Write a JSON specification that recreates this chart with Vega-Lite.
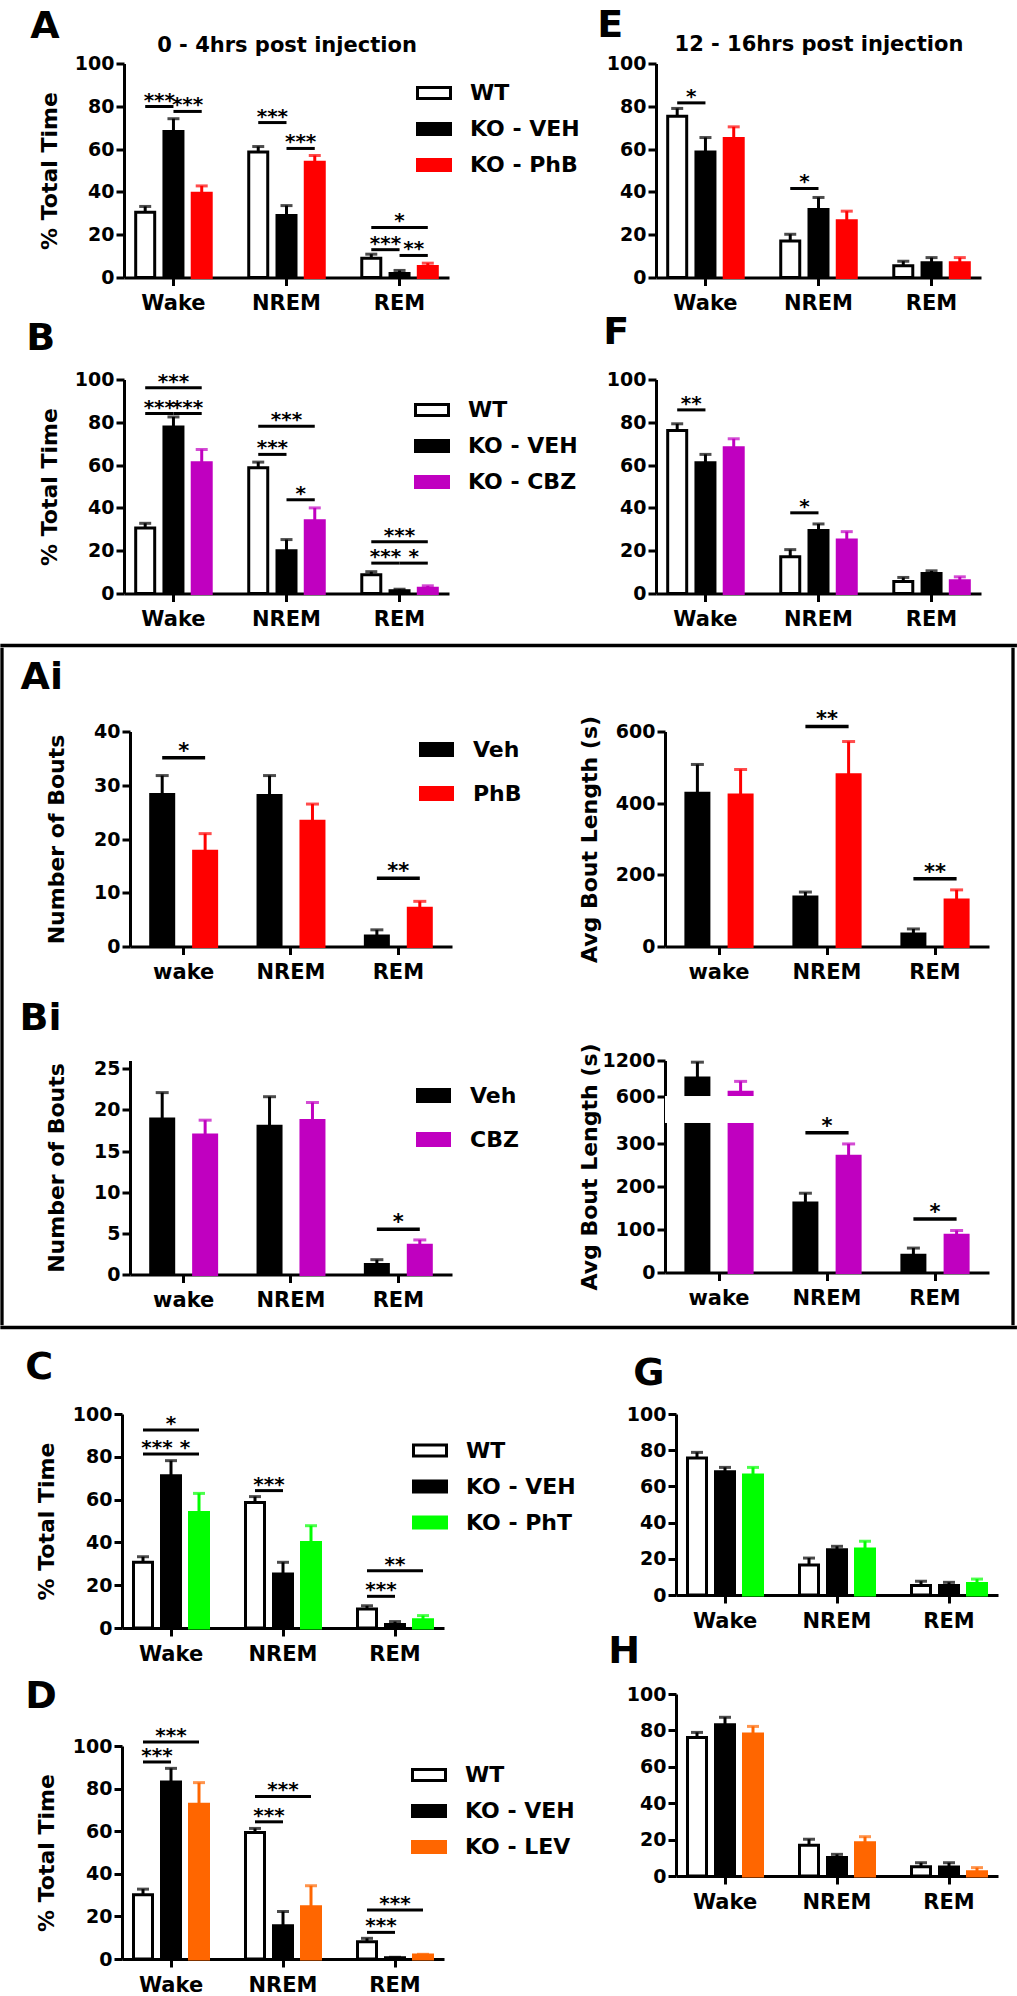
{
"$schema": "https://vega.github.io/schema/vega-lite/v6.json",
"background": "white",
"padding": {"left": 0, "top": 6.5, "right": 0, "bottom": 0},
"datasets": {
"A": [
{"bar":"Wake|WT","group":"WT","mean":30.5,"hi":33.2},
{"bar":"Wake|KO","group":"KO - VEH","mean":68.2,"hi":74.2},
{"bar":"Wake|Drug","group":"KO - PhB","mean":39.4,"hi":42.8},
{"bar":"NREM|WT","group":"WT","mean":58.6,"hi":61.2},
{"bar":"NREM|KO","group":"KO - VEH","mean":29,"hi":33.6},
{"bar":"NREM|Drug","group":"KO - PhB","mean":53.9,"hi":57},
{"bar":"REM|WT","group":"WT","mean":9,"hi":10.9},
{"bar":"REM|KO","group":"KO - VEH","mean":1.9,"hi":3.3},
{"bar":"REM|Drug","group":"KO - PhB","mean":5.1,"hi":6.7}],
"A_sig": [
{"from":"Wake|WT","to":"Wake|KO","at":"Wake|WT-KO","y":79.9,"label":"***"},
{"from":"Wake|KO","to":"Wake|Drug","at":"Wake|KO-Drug","y":77.6,"label":"***"},
{"from":"NREM|WT","to":"NREM|KO","at":"NREM|WT-KO","y":72.4,"label":"***"},
{"from":"NREM|KO","to":"NREM|Drug","at":"NREM|KO-Drug","y":60.3,"label":"***"},
{"from":"REM|WT","to":"REM|Drug","at":"REM|KO","y":23.4,"label":"*"},
{"from":"REM|WT","to":"REM|KO","at":"REM|WT-KO","y":13,"label":"***"},
{"from":"REM|KO","to":"REM|Drug","at":"REM|KO-Drug","y":10.3,"label":"**"}],
"E": [
{"bar":"Wake|WT","group":"WT","mean":75.4,"hi":79},
{"bar":"Wake|KO","group":"KO - VEH","mean":58.7,"hi":65.4},
{"bar":"Wake|Drug","group":"KO - PhB","mean":65,"hi":70.4},
{"bar":"NREM|WT","group":"WT","mean":17.1,"hi":20.2},
{"bar":"NREM|KO","group":"KO - VEH","mean":31.8,"hi":37.4},
{"bar":"NREM|Drug","group":"KO - PhB","mean":26.5,"hi":31},
{"bar":"REM|WT","group":"WT","mean":5.5,"hi":7.6},
{"bar":"REM|KO","group":"KO - VEH","mean":6.9,"hi":9.3},
{"bar":"REM|Drug","group":"KO - PhB","mean":6.9,"hi":9.3}],
"E_sig": [
{"from":"Wake|WT","to":"Wake|KO","at":"Wake|WT-KO","y":81.6,"label":"*"},
{"from":"NREM|WT","to":"NREM|KO","at":"NREM|WT-KO","y":41.6,"label":"*"}],
"B": [
{"bar":"Wake|WT","group":"WT","mean":30.6,"hi":32.8},
{"bar":"Wake|KO","group":"KO - VEH","mean":77.8,"hi":82.5},
{"bar":"Wake|Drug","group":"KO - CBZ","mean":61.1,"hi":67.3},
{"bar":"NREM|WT","group":"WT","mean":58.8,"hi":61.4},
{"bar":"NREM|KO","group":"KO - VEH","mean":20,"hi":25.2},
{"bar":"NREM|Drug","group":"KO - CBZ","mean":34,"hi":40},
{"bar":"REM|WT","group":"WT","mean":8.8,"hi":10.2},
{"bar":"REM|KO","group":"KO - VEH","mean":1.3,"hi":2},
{"bar":"REM|Drug","group":"KO - CBZ","mean":2.5,"hi":3.6}],
"B_sig": [
{"from":"Wake|WT","to":"Wake|Drug","at":"Wake|KO","y":96.1,"label":"***"},
{"from":"Wake|WT","to":"Wake|KO","at":"Wake|WT-KO","y":84.1,"label":"***"},
{"from":"Wake|KO","to":"Wake|Drug","at":"Wake|KO-Drug","y":84.1,"label":"***"},
{"from":"NREM|WT","to":"NREM|Drug","at":"NREM|KO","y":78.1,"label":"***"},
{"from":"NREM|WT","to":"NREM|KO","at":"NREM|WT-KO","y":65,"label":"***"},
{"from":"NREM|KO","to":"NREM|Drug","at":"NREM|KO-Drug","y":43.8,"label":"*"},
{"from":"REM|WT","to":"REM|Drug","at":"REM|KO","y":24.2,"label":"***"},
{"from":"REM|WT","to":"REM|KO","at":"REM|WT-KO","y":14.2,"label":"***"},
{"from":"REM|KO","to":"REM|Drug","at":"REM|KO-Drug","y":14.2,"label":"*"}],
"F": [
{"bar":"Wake|WT","group":"WT","mean":76.2,"hi":79.3},
{"bar":"Wake|KO","group":"KO - VEH","mean":61.1,"hi":65},
{"bar":"Wake|Drug","group":"KO - CBZ","mean":68.1,"hi":72.3},
{"bar":"NREM|WT","group":"WT","mean":17.2,"hi":20.5},
{"bar":"NREM|KO","group":"KO - VEH","mean":29.4,"hi":32.5},
{"bar":"NREM|Drug","group":"KO - CBZ","mean":25,"hi":28.9},
{"bar":"REM|WT","group":"WT","mean":5.6,"hi":7.5},
{"bar":"REM|KO","group":"KO - VEH","mean":9.4,"hi":10.6},
{"bar":"REM|Drug","group":"KO - CBZ","mean":6,"hi":7.8}],
"F_sig": [
{"from":"Wake|WT","to":"Wake|KO","at":"Wake|WT-KO","y":85.8,"label":"**"},
{"from":"NREM|WT","to":"NREM|KO","at":"NREM|WT-KO","y":37.7,"label":"*"}],
"C": [
{"bar":"Wake|WT","group":"WT","mean":30.7,"hi":33.3},
{"bar":"Wake|KO","group":"KO - VEH","mean":71.2,"hi":78.2},
{"bar":"Wake|Drug","group":"KO - PhT","mean":54,"hi":62.9},
{"bar":"NREM|WT","group":"WT","mean":58.7,"hi":61.4},
{"bar":"NREM|KO","group":"KO - VEH","mean":25.2,"hi":30.7},
{"bar":"NREM|Drug","group":"KO - PhT","mean":40,"hi":47.8},
{"bar":"REM|WT","group":"WT","mean":8.9,"hi":10.4},
{"bar":"REM|KO","group":"KO - VEH","mean":1.6,"hi":3},
{"bar":"REM|Drug","group":"KO - PhT","mean":3.9,"hi":5.8}],
"C_sig": [
{"from":"Wake|WT","to":"Wake|Drug","at":"Wake|KO","y":92.5,"label":"*"},
{"from":"Wake|WT","to":"Wake|KO","at":"Wake|WT-KO","y":81.3,"label":"***"},
{"from":"Wake|KO","to":"Wake|Drug","at":"Wake|KO-Drug","y":81.3,"label":"*"},
{"from":"NREM|WT","to":"NREM|KO","at":"NREM|WT-KO","y":64.2,"label":"***"},
{"from":"REM|WT","to":"REM|Drug","at":"REM|KO","y":26.8,"label":"**"},
{"from":"REM|WT","to":"REM|KO","at":"REM|WT-KO","y":14.8,"label":"***"}],
"G": [
{"bar":"Wake|WT","group":"WT","mean":75.7,"hi":78.8},
{"bar":"Wake|KO","group":"KO - VEH","mean":68.1,"hi":70.5},
{"bar":"Wake|Drug","group":"KO - PhT","mean":66.3,"hi":70.5},
{"bar":"NREM|WT","group":"WT","mean":16.6,"hi":20.4},
{"bar":"NREM|KO","group":"KO - VEH","mean":25,"hi":26.9},
{"bar":"NREM|Drug","group":"KO - PhT","mean":25.4,"hi":29.7},
{"bar":"REM|WT","group":"WT","mean":5.2,"hi":7.6},
{"bar":"REM|KO","group":"KO - VEH","mean":5.2,"hi":7},
{"bar":"REM|Drug","group":"KO - PhT","mean":6.4,"hi":8.8}],
"D": [
{"bar":"Wake|WT","group":"WT","mean":30.2,"hi":32.8},
{"bar":"Wake|KO","group":"KO - VEH","mean":83.1,"hi":89.5},
{"bar":"Wake|Drug","group":"KO - LEV","mean":72.7,"hi":82.8},
{"bar":"NREM|WT","group":"WT","mean":59.4,"hi":61.3},
{"bar":"NREM|KO","group":"KO - VEH","mean":15.6,"hi":22.3},
{"bar":"NREM|Drug","group":"KO - LEV","mean":24.5,"hi":34.4},
{"bar":"REM|WT","group":"WT","mean":8.1,"hi":9.7},
{"bar":"REM|KO","group":"KO - VEH","mean":0.6,"hi":0.8},
{"bar":"REM|Drug","group":"KO - LEV","mean":1.9,"hi":2.2}],
"D_sig": [
{"from":"Wake|WT","to":"Wake|Drug","at":"Wake|KO","y":101.9,"label":"***"},
{"from":"Wake|WT","to":"Wake|KO","at":"Wake|WT-KO","y":92.5,"label":"***"},
{"from":"NREM|WT","to":"NREM|Drug","at":"NREM|KO","y":76.3,"label":"***"},
{"from":"NREM|WT","to":"NREM|KO","at":"NREM|WT-KO","y":64.4,"label":"***"},
{"from":"REM|WT","to":"REM|Drug","at":"REM|KO","y":23,"label":"***"},
{"from":"REM|WT","to":"REM|KO","at":"REM|WT-KO","y":12.5,"label":"***"}],
"H": [
{"bar":"Wake|WT","group":"WT","mean":76.1,"hi":78.9},
{"bar":"Wake|KO","group":"KO - VEH","mean":83.1,"hi":87.2},
{"bar":"Wake|Drug","group":"KO - LEV","mean":78,"hi":82.2},
{"bar":"NREM|WT","group":"WT","mean":16.9,"hi":20.2},
{"bar":"NREM|KO","group":"KO - VEH","mean":10.1,"hi":11.9},
{"bar":"NREM|Drug","group":"KO - LEV","mean":18.3,"hi":21.6},
{"bar":"REM|WT","group":"WT","mean":5.1,"hi":7.3},
{"bar":"REM|KO","group":"KO - VEH","mean":5,"hi":7.3},
{"bar":"REM|Drug","group":"KO - LEV","mean":2.4,"hi":4.6}],
"AiL": [
{"bar":"wake|Veh","group":"Veh","mean":28.3,"hi":31.8},
{"bar":"wake|Drug","group":"PhB","mean":17.7,"hi":21},
{"bar":"NREM|Veh","group":"Veh","mean":28.1,"hi":31.8},
{"bar":"NREM|Drug","group":"PhB","mean":23.3,"hi":26.5},
{"bar":"REM|Veh","group":"Veh","mean":1.95,"hi":3.1},
{"bar":"REM|Drug","group":"PhB","mean":7.1,"hi":8.4}],
"AiL_sig": [
{"from":"wake|Veh","to":"wake|Drug","at":"wake|mid","y":35.1,"label":"*"},
{"from":"REM|Veh","to":"REM|Drug","at":"REM|mid","y":12.7,"label":"**"}],
"AiR": [
{"bar":"wake|Veh","group":"Veh","mean":428,"hi":508},
{"bar":"wake|Drug","group":"PhB","mean":423,"hi":494},
{"bar":"NREM|Veh","group":"Veh","mean":138,"hi":152},
{"bar":"NREM|Drug","group":"PhB","mean":479,"hi":572},
{"bar":"REM|Veh","group":"Veh","mean":35,"hi":49},
{"bar":"REM|Drug","group":"PhB","mean":130,"hi":158}],
"AiR_sig": [
{"from":"NREM|Veh","to":"NREM|Drug","at":"NREM|mid","y":614,"label":"**"},
{"from":"REM|Veh","to":"REM|Drug","at":"REM|mid","y":189,"label":"**"}],
"BiL": [
{"bar":"wake|Veh","group":"Veh","mean":18.9,"hi":22.1},
{"bar":"wake|Drug","group":"CBZ","mean":16.95,"hi":18.75},
{"bar":"NREM|Veh","group":"Veh","mean":18,"hi":21.6},
{"bar":"NREM|Drug","group":"CBZ","mean":18.7,"hi":20.9},
{"bar":"REM|Veh","group":"Veh","mean":1.2,"hi":1.8},
{"bar":"REM|Drug","group":"CBZ","mean":3.55,"hi":4.2}],
"BiL_sig": [
{"from":"REM|Veh","to":"REM|Drug","at":"REM|mid","y":5.5,"label":"*"}],
"BiR": [
{"bar":"wake|Veh","group":"Veh","mean":908,"hi":1172},
{"bar":"wake|Drug","group":"CBZ","mean":670,"hi":852},
{"bar":"NREM|Veh","group":"Veh","mean":162,"hi":185},
{"bar":"NREM|Drug","group":"CBZ","mean":271,"hi":300},
{"bar":"REM|Veh","group":"Veh","mean":40,"hi":57},
{"bar":"REM|Drug","group":"CBZ","mean":87,"hi":98}],
"BiR_sig": [
{"from":"NREM|Veh","to":"NREM|Drug","at":"NREM|mid","y":326,"label":"*"},
{"from":"REM|Veh","to":"REM|Drug","at":"REM|mid","y":125,"label":"*"}]
},
"config": {
"view": {"stroke": null},
"font": "DejaVu Sans",
"title": {"font":"DejaVu Sans","fontWeight":"bold","fontSize":38,"color":"black","anchor":"start","frame":"bounds","baseline":"alphabetic"},
"axis": {"domainColor":"black","domainWidth":3,"tickColor":"black","tickWidth":3,"tickSize":8,"labelColor":"black","labelFont":"DejaVu Sans","labelFontWeight":"bold","labelFontSize":19,"titleColor":"black","titleFont":"DejaVu Sans","titleFontWeight":"bold","titleFontSize":22,"grid":false,"labelPadding":2,"labelOverlap":false},
"axisX": {"labelFontSize":21,"labelPadding":7,"labelAngle":0},
"legend": {"labelFont":"DejaVu Sans","labelFontWeight":"bold","labelFontSize":22,"labelColor":"black"},
"text": {"font":"DejaVu Sans","fontWeight":"bold"}
},
"vconcat": [
{
"vconcat": [
{
"hconcat": [
{"width":0.01,"height":0.01,"data":{"values":[]},"mark":"point"},
{
"concat": [
{
"width":325,"height":214,
"title":{"text":"A","offset":-11,"dx":-8},
"data":{"name":"A"},
"resolve":{"axis":{"x":"independent","y":"independent"}},
"layer":[
{"mark":{"type":"bar","width":19,"strokeWidth":3},
"encoding":{
"x":{"field":"bar","type":"nominal","scale":{"domain":["Wake|WT","Wake|WT-KO","Wake|KO","Wake|KO-Drug","Wake|Drug","Wake|s1","Wake|s2","Wake|s3","NREM|WT","NREM|WT-KO","NREM|KO","NREM|KO-Drug","NREM|Drug","NREM|s1","NREM|s2","NREM|s3","REM|WT","REM|WT-KO","REM|KO","REM|KO-Drug","REM|Drug"],"paddingInner":0,"paddingOuter":1.7},"axis":{"values":["Wake|KO","NREM|KO","REM|KO"],"labelExpr":"split(datum.value,'|')[0]","labelFontSize":21,"labelPadding":7,"title":null}},
"y":{"field":"mean","type":"quantitative","scale":{"domain":[0,100]},"axis":{"values":[0,20,40,60,80,100],"labelOverlap":false,"title":"% Total Time","titlePadding":13}},
"fill":{"field":"group","type":"nominal","scale":{"domain":["WT","KO - VEH","KO - PhB"],"range":["#ffffff","#000000","#ff0000"]},"legend":{"orient":"none","legendX":292,"legendY":11.5,"title":null,"symbolType":"M-1,-0.333H1V0.333H-1Z","symbolSize":1089,"symbolStrokeWidth":3,"labelOffset":18,"rowPadding":6,"padding":0}},
"stroke":{"field":"group","type":"nominal","scale":{"domain":["WT","KO - VEH","KO - PhB"],"range":["#000000","#000000","#ff0000"]},"legend":{"orient":"none","legendX":292,"legendY":11.5,"title":null,"symbolType":"M-1,-0.333H1V0.333H-1Z","symbolSize":1089,"symbolStrokeWidth":3,"labelOffset":18,"rowPadding":6,"padding":0}}}},
{"mark":{"type":"rule","strokeWidth":3},
"encoding":{"x":{"field":"bar","type":"nominal","axis":{"orient":"top","title":"0 - 4hrs post injection","labels":false,"ticks":false,"domain":false,"titlePadding":12,"titleBaseline":"alphabetic","titleFontSize":21}},"y":{"field":"mean","type":"quantitative","axis":null},"y2":{"field":"hi"},"stroke":{"field":"group","type":"nominal"}}},
{"mark":{"type":"tick","thickness":3,"size":12},
"encoding":{"x":{"field":"bar","type":"nominal","axis":null},"y":{"field":"hi","type":"quantitative","axis":null},"color":{"field":"group","type":"nominal","scale":{"domain":["WT","KO - VEH","KO - PhB"],"range":["#000000","#000000","#ff0000"]},"legend":null}}},
{"data":{"name":"A_sig"},"mark":{"type":"rule","strokeWidth":3,"color":"black"},
"encoding":{"x":{"field":"from","type":"nominal","axis":null},"x2":{"field":"to"},"y":{"field":"y","type":"quantitative","axis":null}}},
{"data":{"name":"A_sig"},"mark":{"type":"text","fontSize":20,"baseline":"alphabetic","color":"black"},
"encoding":{"x":{"field":"at","type":"nominal","axis":null},"y":{"field":"y","type":"quantitative","axis":null},"text":{"field":"label"}}}
]
},
{
"width":325,"height":214,
"title":{"text":"E","offset":-11,"dx":-9},
"data":{"name":"E"},
"resolve":{"axis":{"x":"independent","y":"independent"}},
"layer":[
{"mark":{"type":"bar","width":19,"strokeWidth":3},
"encoding":{
"x":{"field":"bar","type":"nominal","scale":{"domain":["Wake|WT","Wake|WT-KO","Wake|KO","Wake|KO-Drug","Wake|Drug","Wake|s1","Wake|s2","Wake|s3","NREM|WT","NREM|WT-KO","NREM|KO","NREM|KO-Drug","NREM|Drug","NREM|s1","NREM|s2","NREM|s3","REM|WT","REM|WT-KO","REM|KO","REM|KO-Drug","REM|Drug"],"paddingInner":0,"paddingOuter":1.7},"axis":{"values":["Wake|KO","NREM|KO","REM|KO"],"labelExpr":"split(datum.value,'|')[0]","labelFontSize":21,"labelPadding":7,"title":null}},
"y":{"field":"mean","type":"quantitative","scale":{"domain":[0,100]},"axis":{"values":[0,20,40,60,80,100],"labelOverlap":false,"title":null}},
"fill":{"field":"group","type":"nominal","scale":{"domain":["WT","KO - VEH","KO - PhB"],"range":["#ffffff","#000000","#ff0000"]},"legend":null},
"stroke":{"field":"group","type":"nominal","scale":{"domain":["WT","KO - VEH","KO - PhB"],"range":["#000000","#000000","#ff0000"]},"legend":null}}},
{"mark":{"type":"rule","strokeWidth":3},
"encoding":{"x":{"field":"bar","type":"nominal","axis":{"orient":"top","title":"12 - 16hrs post injection","labels":false,"ticks":false,"domain":false,"titlePadding":13,"titleBaseline":"alphabetic","titleFontSize":21}},"y":{"field":"mean","type":"quantitative","axis":null},"y2":{"field":"hi"},"stroke":{"field":"group","type":"nominal"}}},
{"mark":{"type":"tick","thickness":3,"size":12},
"encoding":{"x":{"field":"bar","type":"nominal","axis":null},"y":{"field":"hi","type":"quantitative","axis":null},"color":{"field":"group","type":"nominal","scale":{"domain":["WT","KO - VEH","KO - PhB"],"range":["#000000","#000000","#ff0000"]},"legend":null}}},
{"data":{"name":"E_sig"},"mark":{"type":"rule","strokeWidth":3,"color":"black"},
"encoding":{"x":{"field":"from","type":"nominal","axis":null},"x2":{"field":"to"},"y":{"field":"y","type":"quantitative","axis":null}}},
{"data":{"name":"E_sig"},"mark":{"type":"text","fontSize":20,"baseline":"alphabetic","color":"black"},
"encoding":{"x":{"field":"at","type":"nominal","axis":null},"y":{"field":"y","type":"quantitative","axis":null},"text":{"field":"label"}}}
]
},
{
"width":325,"height":214,
"title":{"text":"B","offset":13,"dx":-12},
"data":{"name":"B"},
"resolve":{"axis":{"x":"independent","y":"independent"}},
"layer":[
{"mark":{"type":"bar","width":19,"strokeWidth":3},
"encoding":{
"x":{"field":"bar","type":"nominal","scale":{"domain":["Wake|WT","Wake|WT-KO","Wake|KO","Wake|KO-Drug","Wake|Drug","Wake|s1","Wake|s2","Wake|s3","NREM|WT","NREM|WT-KO","NREM|KO","NREM|KO-Drug","NREM|Drug","NREM|s1","NREM|s2","NREM|s3","REM|WT","REM|WT-KO","REM|KO","REM|KO-Drug","REM|Drug"],"paddingInner":0,"paddingOuter":1.7},"axis":{"values":["Wake|KO","NREM|KO","REM|KO"],"labelExpr":"split(datum.value,'|')[0]","labelFontSize":21,"labelPadding":7,"title":null}},
"y":{"field":"mean","type":"quantitative","scale":{"domain":[0,100]},"axis":{"values":[0,20,40,60,80,100],"labelOverlap":false,"title":"% Total Time","titlePadding":13}},
"fill":{"field":"group","type":"nominal","scale":{"domain":["WT","KO - VEH","KO - CBZ"],"range":["#ffffff","#000000","#c000c0"]},"legend":{"orient":"none","legendX":290,"legendY":12.5,"title":null,"symbolType":"M-1,-0.333H1V0.333H-1Z","symbolSize":1089,"symbolStrokeWidth":3,"labelOffset":18,"rowPadding":6,"padding":0}},
"stroke":{"field":"group","type":"nominal","scale":{"domain":["WT","KO - VEH","KO - CBZ"],"range":["#000000","#000000","#c000c0"]},"legend":{"orient":"none","legendX":290,"legendY":12.5,"title":null,"symbolType":"M-1,-0.333H1V0.333H-1Z","symbolSize":1089,"symbolStrokeWidth":3,"labelOffset":18,"rowPadding":6,"padding":0}}}},
{"mark":{"type":"rule","strokeWidth":3},
"encoding":{"x":{"field":"bar","type":"nominal","axis":null},"y":{"field":"mean","type":"quantitative","axis":null},"y2":{"field":"hi"},"stroke":{"field":"group","type":"nominal"}}},
{"mark":{"type":"tick","thickness":3,"size":12},
"encoding":{"x":{"field":"bar","type":"nominal","axis":null},"y":{"field":"hi","type":"quantitative","axis":null},"color":{"field":"group","type":"nominal","scale":{"domain":["WT","KO - VEH","KO - CBZ"],"range":["#000000","#000000","#c000c0"]},"legend":null}}},
{"data":{"name":"B_sig"},"mark":{"type":"rule","strokeWidth":3,"color":"black"},
"encoding":{"x":{"field":"from","type":"nominal","axis":null},"x2":{"field":"to"},"y":{"field":"y","type":"quantitative","axis":null}}},
{"data":{"name":"B_sig"},"mark":{"type":"text","fontSize":20,"baseline":"alphabetic","color":"black"},
"encoding":{"x":{"field":"at","type":"nominal","axis":null},"y":{"field":"y","type":"quantitative","axis":null},"text":{"field":"label"}}}
]
},
{
"width":325,"height":214,
"title":{"text":"F","offset":18.5,"dx":-3},
"data":{"name":"F"},
"resolve":{"axis":{"x":"independent","y":"independent"}},
"layer":[
{"mark":{"type":"bar","width":19,"strokeWidth":3},
"encoding":{
"x":{"field":"bar","type":"nominal","scale":{"domain":["Wake|WT","Wake|WT-KO","Wake|KO","Wake|KO-Drug","Wake|Drug","Wake|s1","Wake|s2","Wake|s3","NREM|WT","NREM|WT-KO","NREM|KO","NREM|KO-Drug","NREM|Drug","NREM|s1","NREM|s2","NREM|s3","REM|WT","REM|WT-KO","REM|KO","REM|KO-Drug","REM|Drug"],"paddingInner":0,"paddingOuter":1.7},"axis":{"values":["Wake|KO","NREM|KO","REM|KO"],"labelExpr":"split(datum.value,'|')[0]","labelFontSize":21,"labelPadding":7,"title":null}},
"y":{"field":"mean","type":"quantitative","scale":{"domain":[0,100]},"axis":{"values":[0,20,40,60,80,100],"labelOverlap":false,"title":null}},
"fill":{"field":"group","type":"nominal","scale":{"domain":["WT","KO - VEH","KO - CBZ"],"range":["#ffffff","#000000","#c000c0"]},"legend":null},
"stroke":{"field":"group","type":"nominal","scale":{"domain":["WT","KO - VEH","KO - CBZ"],"range":["#000000","#000000","#c000c0"]},"legend":null}}},
{"mark":{"type":"rule","strokeWidth":3},
"encoding":{"x":{"field":"bar","type":"nominal","axis":null},"y":{"field":"mean","type":"quantitative","axis":null},"y2":{"field":"hi"},"stroke":{"field":"group","type":"nominal"}}},
{"mark":{"type":"tick","thickness":3,"size":12},
"encoding":{"x":{"field":"bar","type":"nominal","axis":null},"y":{"field":"hi","type":"quantitative","axis":null},"color":{"field":"group","type":"nominal","scale":{"domain":["WT","KO - VEH","KO - CBZ"],"range":["#000000","#000000","#c000c0"]},"legend":null}}},
{"data":{"name":"F_sig"},"mark":{"type":"rule","strokeWidth":3,"color":"black"},
"encoding":{"x":{"field":"from","type":"nominal","axis":null},"x2":{"field":"to"},"y":{"field":"y","type":"quantitative","axis":null}}},
{"data":{"name":"F_sig"},"mark":{"type":"text","fontSize":20,"baseline":"alphabetic","color":"black"},
"encoding":{"x":{"field":"at","type":"nominal","axis":null},"y":{"field":"y","type":"quantitative","axis":null},"text":{"field":"label"}}}
]
}
],
"columns": 2,
"bounds": "flush",
"spacing": {"row": 102, "column": 207},
"resolve": {"scale": {"x":"independent","y":"independent","fill":"independent","stroke":"independent","color":"independent"}, "legend": {"fill":"independent","stroke":"independent"}}
}
],
"spacing": 23,
"resolve": {"scale": {"x":"independent","y":"independent","fill":"independent","stroke":"independent","color":"independent"}, "legend": {"fill":"independent","stroke":"independent"}}
},
{
"vconcat": [
{"width":1013.3,"height":0.01,"view":{"stroke":"black","strokeWidth":3.3},"data":{"values":[]},"mark":"point"},
{
"hconcat": [
{"width":0.01,"height":674,"view":{"stroke":"black","strokeWidth":3.3},"data":{"values":[]},"mark":"point"},
{
"hconcat": [
{
"vconcat": [
{"width":0.01,"height":0.01,"data":{"values":[]},"mark":"point"},
{
"concat": [
{
"width":322,"height":215,
"title":{"text":"Ai","offset":25.5,"dx":-25},
"data":{"name":"AiL"},
"resolve":{"axis":{"x":"independent","y":"independent"}},
"layer":[
{"mark":{"type":"bar","width":23,"strokeWidth":3},
"encoding":{
"x":{"field":"bar","type":"nominal","scale":{"domain":["wake|Veh","wake|mid","wake|Drug","wake|s1","wake|s2","NREM|Veh","NREM|mid","NREM|Drug","NREM|s1","NREM|s2","REM|Veh","REM|mid","REM|Drug"],"paddingInner":0,"paddingOuter":1.03},"axis":{"values":["wake|mid","NREM|mid","REM|mid"],"labelExpr":"split(datum.value,'|')[0]","labelFontSize":21,"labelPadding":7,"title":null}},
"y":{"field":"mean","type":"quantitative","scale":{"domain":[0,40]},"axis":{"values":[0,10,20,30,40],"labelOverlap":false,"title":"Number of Bouts","titlePadding":25}},
"fill":{"field":"group","type":"nominal","scale":{"domain":["Veh","PhB"],"range":["#000000","#ff0000"]},"legend":{"orient":"none","legendX":289,"legendY":0.5,"title":null,"symbolType":"M-1,-0.375H1V0.375H-1Z","symbolSize":1024,"symbolStrokeWidth":3,"labelOffset":19,"rowPadding":14,"padding":0}},
"stroke":{"field":"group","type":"nominal","scale":{"domain":["Veh","PhB"],"range":["#000000","#ff0000"]},"legend":{"orient":"none","legendX":289,"legendY":0.5,"title":null,"symbolType":"M-1,-0.375H1V0.375H-1Z","symbolSize":1024,"symbolStrokeWidth":3,"labelOffset":19,"rowPadding":14,"padding":0}}}},
{"mark":{"type":"rule","strokeWidth":3},
"encoding":{"x":{"field":"bar","type":"nominal","axis":null},"y":{"field":"mean","type":"quantitative","axis":null},"y2":{"field":"hi"},"stroke":{"field":"group","type":"nominal"}}},
{"mark":{"type":"tick","thickness":3,"size":13},
"encoding":{"x":{"field":"bar","type":"nominal","axis":null},"y":{"field":"hi","type":"quantitative","axis":null},"color":{"field":"group","type":"nominal","scale":{"domain":["Veh","PhB"],"range":["#000000","#ff0000"]},"legend":null}}},
{"data":{"name":"AiL_sig"},"mark":{"type":"rule","strokeWidth":3.5,"color":"black"},
"encoding":{"x":{"field":"from","type":"nominal","axis":null},"x2":{"field":"to"},"y":{"field":"y","type":"quantitative","axis":null}}},
{"data":{"name":"AiL_sig"},"mark":{"type":"text","fontSize":21,"baseline":"alphabetic","color":"black"},
"encoding":{"x":{"field":"at","type":"nominal","axis":null},"y":{"field":"y","type":"quantitative","axis":null},"text":{"field":"label"}}}
]
},
{
"width":324,"height":215,
"data":{"name":"AiR"},
"resolve":{"axis":{"x":"independent","y":"independent"}},
"layer":[
{"mark":{"type":"bar","width":23,"strokeWidth":3},
"encoding":{
"x":{"field":"bar","type":"nominal","scale":{"domain":["wake|Veh","wake|mid","wake|Drug","wake|s1","wake|s2","NREM|Veh","NREM|mid","NREM|Drug","NREM|s1","NREM|s2","REM|Veh","REM|mid","REM|Drug"],"paddingInner":0,"paddingOuter":1.03},"axis":{"values":["wake|mid","NREM|mid","REM|mid"],"labelExpr":"split(datum.value,'|')[0]","labelFontSize":21,"labelPadding":7,"title":null}},
"y":{"field":"mean","type":"quantitative","scale":{"domain":[0,600]},"axis":{"values":[0,200,400,600],"labelOverlap":false,"title":"Avg Bout Length (s)","titlePadding":14}},
"fill":{"field":"group","type":"nominal","scale":{"domain":["Veh","PhB"],"range":["#000000","#ff0000"]},"legend":null},
"stroke":{"field":"group","type":"nominal","scale":{"domain":["Veh","PhB"],"range":["#000000","#ff0000"]},"legend":null}}},
{"mark":{"type":"rule","strokeWidth":3},
"encoding":{"x":{"field":"bar","type":"nominal","axis":null},"y":{"field":"mean","type":"quantitative","axis":null},"y2":{"field":"hi"},"stroke":{"field":"group","type":"nominal"}}},
{"mark":{"type":"tick","thickness":3,"size":13},
"encoding":{"x":{"field":"bar","type":"nominal","axis":null},"y":{"field":"hi","type":"quantitative","axis":null},"color":{"field":"group","type":"nominal","scale":{"domain":["Veh","PhB"],"range":["#000000","#ff0000"]},"legend":null}}},
{"data":{"name":"AiR_sig"},"mark":{"type":"rule","strokeWidth":3.5,"color":"black"},
"encoding":{"x":{"field":"from","type":"nominal","axis":null},"x2":{"field":"to"},"y":{"field":"y","type":"quantitative","axis":null}}},
{"data":{"name":"AiR_sig"},"mark":{"type":"text","fontSize":21,"baseline":"alphabetic","color":"black"},
"encoding":{"x":{"field":"at","type":"nominal","axis":null},"y":{"field":"y","type":"quantitative","axis":null},"text":{"field":"label"}}}
]
},
{
"width":322,"height":214,
"title":{"text":"Bi","offset":21.5,"dx":-26},
"data":{"name":"BiL"},
"resolve":{"axis":{"x":"independent","y":"independent"}},
"layer":[
{"mark":{"type":"bar","width":23,"strokeWidth":3},
"encoding":{
"x":{"field":"bar","type":"nominal","scale":{"domain":["wake|Veh","wake|mid","wake|Drug","wake|s1","wake|s2","NREM|Veh","NREM|mid","NREM|Drug","NREM|s1","NREM|s2","REM|Veh","REM|mid","REM|Drug"],"paddingInner":0,"paddingOuter":1.03},"axis":{"values":["wake|mid","NREM|mid","REM|mid"],"labelExpr":"split(datum.value,'|')[0]","labelFontSize":21,"labelPadding":7,"title":null}},
"y":{"field":"mean","type":"quantitative","scale":{"domain":[0,25]},"axis":{"values":[0,5,10,15,20,25],"labelOverlap":false,"title":"Number of Bouts","titlePadding":25}},
"fill":{"field":"group","type":"nominal","scale":{"domain":["Veh","CBZ"],"range":["#000000","#c000c0"]},"legend":{"orient":"none","legendX":286,"legendY":17.5,"title":null,"symbolType":"M-1,-0.375H1V0.375H-1Z","symbolSize":1024,"symbolStrokeWidth":3,"labelOffset":19,"rowPadding":14,"padding":0}},
"stroke":{"field":"group","type":"nominal","scale":{"domain":["Veh","CBZ"],"range":["#000000","#c000c0"]},"legend":{"orient":"none","legendX":286,"legendY":17.5,"title":null,"symbolType":"M-1,-0.375H1V0.375H-1Z","symbolSize":1024,"symbolStrokeWidth":3,"labelOffset":19,"rowPadding":14,"padding":0}}}},
{"mark":{"type":"rule","strokeWidth":3},
"encoding":{"x":{"field":"bar","type":"nominal","axis":null},"y":{"field":"mean","type":"quantitative","axis":null},"y2":{"field":"hi"},"stroke":{"field":"group","type":"nominal"}}},
{"mark":{"type":"tick","thickness":3,"size":13},
"encoding":{"x":{"field":"bar","type":"nominal","axis":null},"y":{"field":"hi","type":"quantitative","axis":null},"color":{"field":"group","type":"nominal","scale":{"domain":["Veh","CBZ"],"range":["#000000","#c000c0"]},"legend":null}}},
{"data":{"name":"BiL_sig"},"mark":{"type":"rule","strokeWidth":3.5,"color":"black"},
"encoding":{"x":{"field":"from","type":"nominal","axis":null},"x2":{"field":"to"},"y":{"field":"y","type":"quantitative","axis":null}}},
{"data":{"name":"BiL_sig"},"mark":{"type":"text","fontSize":21,"baseline":"alphabetic","color":"black"},
"encoding":{"x":{"field":"at","type":"nominal","axis":null},"y":{"field":"y","type":"quantitative","axis":null},"text":{"field":"label"}}}
]
},
{
"width":324,"height":212,
"data":{"name":"BiR"},
"resolve":{"axis":{"x":"independent","y":"independent"}},
"layer":[
{"mark":{"type":"bar","width":23,"strokeWidth":3},
"encoding":{
"x":{"field":"bar","type":"nominal","scale":{"domain":["wake|Veh","wake|mid","wake|Drug","wake|s1","wake|s2","NREM|Veh","NREM|mid","NREM|Drug","NREM|s1","NREM|s2","REM|Veh","REM|mid","REM|Drug"],"paddingInner":0,"paddingOuter":1.03},"axis":{"values":["wake|mid","NREM|mid","REM|mid"],"labelExpr":"split(datum.value,'|')[0]","labelFontSize":21,"labelPadding":7,"title":null}},
"y":{"field":"mean","type":"quantitative","scale":{"domain":[0,350,600,1200],"range":[212,62,36,0],"nice":false,"zero":false},"axis":{"values":[0,100,200,300,600,1200],"format":"d","labelOverlap":false,"title":"Avg Bout Length (s)","titlePadding":1}},
"fill":{"field":"group","type":"nominal","scale":{"domain":["Veh","CBZ"],"range":["#000000","#c000c0"]},"legend":null},
"stroke":{"field":"group","type":"nominal","scale":{"domain":["Veh","CBZ"],"range":["#000000","#c000c0"]},"legend":null}}},
{"mark":{"type":"rect","color":"white","xOffset":-3},
"encoding":{"y":{"datum":350,"axis":null},"y2":{"datum":600}}},
{"mark":{"type":"rule","strokeWidth":3},
"encoding":{"x":{"field":"bar","type":"nominal","axis":null},"y":{"field":"mean","type":"quantitative","axis":null},"y2":{"field":"hi"},"stroke":{"field":"group","type":"nominal"}}},
{"mark":{"type":"tick","thickness":3,"size":13},
"encoding":{"x":{"field":"bar","type":"nominal","axis":null},"y":{"field":"hi","type":"quantitative","axis":null},"color":{"field":"group","type":"nominal","scale":{"domain":["Veh","CBZ"],"range":["#000000","#c000c0"]},"legend":null}}},
{"data":{"name":"BiR_sig"},"mark":{"type":"rule","strokeWidth":3.5,"color":"black"},
"encoding":{"x":{"field":"from","type":"nominal","axis":null},"x2":{"field":"to"},"y":{"field":"y","type":"quantitative","axis":null}}},
{"data":{"name":"BiR_sig"},"mark":{"type":"text","fontSize":21,"baseline":"alphabetic","color":"black"},
"encoding":{"x":{"field":"at","type":"nominal","axis":null},"y":{"field":"y","type":"quantitative","axis":null},"text":{"field":"label"}}}
]
}
],
"columns": 2,
"bounds": "flush",
"spacing": {"row": 114, "column": 213},
"resolve": {"scale": {"x":"independent","y":"independent","fill":"independent","stroke":"independent","color":"independent"}, "legend": {"fill":"independent","stroke":"independent"}}
}
],
"spacing": 8,
"resolve": {"scale": {"x":"independent","y":"independent","fill":"independent","stroke":"independent","color":"independent"}, "legend": {"fill":"independent","stroke":"independent"}}
},
{"width":0.01,"height":674,"view":{"stroke":"black","strokeWidth":3.3},"data":{"values":[]},"mark":"point"}
],
"spacing": 22,
"resolve": {"scale": {"x":"independent","y":"independent","fill":"independent","stroke":"independent","color":"independent"}, "legend": {"fill":"independent","stroke":"independent"}}
}
],
"spacing": 15,
"resolve": {"scale": {"x":"independent","y":"independent","fill":"independent","stroke":"independent","color":"independent"}, "legend": {"fill":"independent","stroke":"independent"}}
},
{"width":1013.3,"height":0.01,"view":{"stroke":"black","strokeWidth":3.3},"data":{"values":[]},"mark":"point"}
],
"spacing": 0,
"resolve": {"scale": {"x":"independent","y":"independent","fill":"independent","stroke":"independent","color":"independent"}, "legend": {"fill":"independent","stroke":"independent"}}
}
],
"spacing": 14,
"resolve": {"scale": {"x":"independent","y":"independent","fill":"independent","stroke":"independent","color":"independent"}, "legend": {"fill":"independent","stroke":"independent"}}
},
{
"hconcat": [
{"width":0.01,"height":0.01,"data":{"values":[]},"mark":"point"},
{
"hconcat": [
{
"vconcat": [
{
"width":322,"height":214,
"title":{"text":"C","offset":18.5,"dx":-10},
"data":{"name":"C"},
"resolve":{"axis":{"x":"independent","y":"independent"}},
"layer":[
{"mark":{"type":"bar","width":19,"strokeWidth":3},
"encoding":{
"x":{"field":"bar","type":"nominal","scale":{"domain":["Wake|WT","Wake|WT-KO","Wake|KO","Wake|KO-Drug","Wake|Drug","Wake|s1","Wake|s2","Wake|s3","NREM|WT","NREM|WT-KO","NREM|KO","NREM|KO-Drug","NREM|Drug","NREM|s1","NREM|s2","NREM|s3","REM|WT","REM|WT-KO","REM|KO","REM|KO-Drug","REM|Drug"],"paddingInner":0,"paddingOuter":1.7},"axis":{"values":["Wake|KO","NREM|KO","REM|KO"],"labelExpr":"split(datum.value,'|')[0]","labelFontSize":21,"labelPadding":7,"title":null}},
"y":{"field":"mean","type":"quantitative","scale":{"domain":[0,100]},"axis":{"values":[0,20,40,60,80,100],"labelOverlap":false,"title":"% Total Time","titlePadding":14}},
"fill":{"field":"group","type":"nominal","scale":{"domain":["WT","KO - VEH","KO - PhT"],"range":["#ffffff","#000000","#00ff00"]},"legend":{"orient":"none","legendX":290,"legendY":18.5,"title":null,"symbolType":"M-1,-0.333H1V0.333H-1Z","symbolSize":1089,"symbolStrokeWidth":3,"labelOffset":18,"rowPadding":6,"padding":0}},
"stroke":{"field":"group","type":"nominal","scale":{"domain":["WT","KO - VEH","KO - PhT"],"range":["#000000","#000000","#00ff00"]},"legend":{"orient":"none","legendX":290,"legendY":18.5,"title":null,"symbolType":"M-1,-0.333H1V0.333H-1Z","symbolSize":1089,"symbolStrokeWidth":3,"labelOffset":18,"rowPadding":6,"padding":0}}}},
{"mark":{"type":"rule","strokeWidth":3},
"encoding":{"x":{"field":"bar","type":"nominal","axis":null},"y":{"field":"mean","type":"quantitative","axis":null},"y2":{"field":"hi"},"stroke":{"field":"group","type":"nominal"}}},
{"mark":{"type":"tick","thickness":3,"size":12},
"encoding":{"x":{"field":"bar","type":"nominal","axis":null},"y":{"field":"hi","type":"quantitative","axis":null},"color":{"field":"group","type":"nominal","scale":{"domain":["WT","KO - VEH","KO - PhT"],"range":["#000000","#000000","#00ff00"]},"legend":null}}},
{"data":{"name":"C_sig"},"mark":{"type":"rule","strokeWidth":3,"color":"black"},
"encoding":{"x":{"field":"from","type":"nominal","axis":null},"x2":{"field":"to"},"y":{"field":"y","type":"quantitative","axis":null}}},
{"data":{"name":"C_sig"},"mark":{"type":"text","fontSize":20,"baseline":"alphabetic","color":"black"},
"encoding":{"x":{"field":"at","type":"nominal","axis":null},"y":{"field":"y","type":"quantitative","axis":null},"text":{"field":"label"}}}
]
},
{
"width":322,"height":213,
"title":{"text":"D","offset":10,"dx":-10},
"data":{"name":"D"},
"resolve":{"axis":{"x":"independent","y":"independent"}},
"layer":[
{"mark":{"type":"bar","width":19,"strokeWidth":3},
"encoding":{
"x":{"field":"bar","type":"nominal","scale":{"domain":["Wake|WT","Wake|WT-KO","Wake|KO","Wake|KO-Drug","Wake|Drug","Wake|s1","Wake|s2","Wake|s3","NREM|WT","NREM|WT-KO","NREM|KO","NREM|KO-Drug","NREM|Drug","NREM|s1","NREM|s2","NREM|s3","REM|WT","REM|WT-KO","REM|KO","REM|KO-Drug","REM|Drug"],"paddingInner":0,"paddingOuter":1.7},"axis":{"values":["Wake|KO","NREM|KO","REM|KO"],"labelExpr":"split(datum.value,'|')[0]","labelFontSize":21,"labelPadding":7,"title":null}},
"y":{"field":"mean","type":"quantitative","scale":{"domain":[0,100]},"axis":{"values":[0,20,40,60,80,100],"labelOverlap":false,"title":"% Total Time","titlePadding":14}},
"fill":{"field":"group","type":"nominal","scale":{"domain":["WT","KO - VEH","KO - LEV"],"range":["#ffffff","#000000","#ff6600"]},"legend":{"orient":"none","legendX":289,"legendY":11,"title":null,"symbolType":"M-1,-0.333H1V0.333H-1Z","symbolSize":1089,"symbolStrokeWidth":3,"labelOffset":18,"rowPadding":6,"padding":0}},
"stroke":{"field":"group","type":"nominal","scale":{"domain":["WT","KO - VEH","KO - LEV"],"range":["#000000","#000000","#ff6600"]},"legend":{"orient":"none","legendX":289,"legendY":11,"title":null,"symbolType":"M-1,-0.333H1V0.333H-1Z","symbolSize":1089,"symbolStrokeWidth":3,"labelOffset":18,"rowPadding":6,"padding":0}}}},
{"mark":{"type":"rule","strokeWidth":3},
"encoding":{"x":{"field":"bar","type":"nominal","axis":null},"y":{"field":"mean","type":"quantitative","axis":null},"y2":{"field":"hi"},"stroke":{"field":"group","type":"nominal"}}},
{"mark":{"type":"tick","thickness":3,"size":12},
"encoding":{"x":{"field":"bar","type":"nominal","axis":null},"y":{"field":"hi","type":"quantitative","axis":null},"color":{"field":"group","type":"nominal","scale":{"domain":["WT","KO - VEH","KO - LEV"],"range":["#000000","#000000","#ff6600"]},"legend":null}}},
{"data":{"name":"D_sig"},"mark":{"type":"rule","strokeWidth":3,"color":"black"},
"encoding":{"x":{"field":"from","type":"nominal","axis":null},"x2":{"field":"to"},"y":{"field":"y","type":"quantitative","axis":null}}},
{"data":{"name":"D_sig"},"mark":{"type":"text","fontSize":20,"baseline":"alphabetic","color":"black"},
"encoding":{"x":{"field":"at","type":"nominal","axis":null},"y":{"field":"y","type":"quantitative","axis":null},"text":{"field":"label"}}}
]
}
],
"bounds": "flush",
"spacing": 118,
"resolve": {"scale": {"x":"independent","y":"independent","fill":"independent","stroke":"independent","color":"independent"}, "legend": {"fill":"independent","stroke":"independent"}}
},
{
"vconcat": [
{
"width":322,"height":181,
"title":{"text":"G","offset":12.5,"dx":7},
"data":{"name":"G"},
"resolve":{"axis":{"x":"independent","y":"independent"}},
"layer":[
{"mark":{"type":"bar","width":19,"strokeWidth":3},
"encoding":{
"x":{"field":"bar","type":"nominal","scale":{"domain":["Wake|WT","Wake|WT-KO","Wake|KO","Wake|KO-Drug","Wake|Drug","Wake|s1","Wake|s2","Wake|s3","NREM|WT","NREM|WT-KO","NREM|KO","NREM|KO-Drug","NREM|Drug","NREM|s1","NREM|s2","NREM|s3","REM|WT","REM|WT-KO","REM|KO","REM|KO-Drug","REM|Drug"],"paddingInner":0,"paddingOuter":1.7},"axis":{"values":["Wake|KO","NREM|KO","REM|KO"],"labelExpr":"split(datum.value,'|')[0]","labelFontSize":21,"labelPadding":7,"title":null}},
"y":{"field":"mean","type":"quantitative","scale":{"domain":[0,100]},"axis":{"values":[0,20,40,60,80,100],"labelOverlap":false,"title":null}},
"fill":{"field":"group","type":"nominal","scale":{"domain":["WT","KO - VEH","KO - PhT"],"range":["#ffffff","#000000","#00ff00"]},"legend":null},
"stroke":{"field":"group","type":"nominal","scale":{"domain":["WT","KO - VEH","KO - PhT"],"range":["#000000","#000000","#00ff00"]},"legend":null}}},
{"mark":{"type":"rule","strokeWidth":3},
"encoding":{"x":{"field":"bar","type":"nominal","axis":null},"y":{"field":"mean","type":"quantitative","axis":null},"y2":{"field":"hi"},"stroke":{"field":"group","type":"nominal"}}},
{"mark":{"type":"tick","thickness":3,"size":12},
"encoding":{"x":{"field":"bar","type":"nominal","axis":null},"y":{"field":"hi","type":"quantitative","axis":null},"color":{"field":"group","type":"nominal","scale":{"domain":["WT","KO - VEH","KO - PhT"],"range":["#000000","#000000","#00ff00"]},"legend":null}}}
]
},
{
"width":322,"height":182,
"title":{"text":"H","offset":14.5,"dx":-18},
"data":{"name":"H"},
"resolve":{"axis":{"x":"independent","y":"independent"}},
"layer":[
{"mark":{"type":"bar","width":19,"strokeWidth":3},
"encoding":{
"x":{"field":"bar","type":"nominal","scale":{"domain":["Wake|WT","Wake|WT-KO","Wake|KO","Wake|KO-Drug","Wake|Drug","Wake|s1","Wake|s2","Wake|s3","NREM|WT","NREM|WT-KO","NREM|KO","NREM|KO-Drug","NREM|Drug","NREM|s1","NREM|s2","NREM|s3","REM|WT","REM|WT-KO","REM|KO","REM|KO-Drug","REM|Drug"],"paddingInner":0,"paddingOuter":1.7},"axis":{"values":["Wake|KO","NREM|KO","REM|KO"],"labelExpr":"split(datum.value,'|')[0]","labelFontSize":21,"labelPadding":7,"title":null}},
"y":{"field":"mean","type":"quantitative","scale":{"domain":[0,100]},"axis":{"values":[0,20,40,60,80,100],"labelOverlap":false,"title":null}},
"fill":{"field":"group","type":"nominal","scale":{"domain":["WT","KO - VEH","KO - LEV"],"range":["#ffffff","#000000","#ff6600"]},"legend":null},
"stroke":{"field":"group","type":"nominal","scale":{"domain":["WT","KO - VEH","KO - LEV"],"range":["#000000","#000000","#ff6600"]},"legend":null}}},
{"mark":{"type":"rule","strokeWidth":3},
"encoding":{"x":{"field":"bar","type":"nominal","axis":null},"y":{"field":"mean","type":"quantitative","axis":null},"y2":{"field":"hi"},"stroke":{"field":"group","type":"nominal"}}},
{"mark":{"type":"tick","thickness":3,"size":12},
"encoding":{"x":{"field":"bar","type":"nominal","axis":null},"y":{"field":"hi","type":"quantitative","axis":null},"color":{"field":"group","type":"nominal","scale":{"domain":["WT","KO - VEH","KO - LEV"],"range":["#000000","#000000","#ff6600"]},"legend":null}}}
]
}
],
"bounds": "flush",
"spacing": 99,
"resolve": {"scale": {"x":"independent","y":"independent","fill":"independent","stroke":"independent","color":"independent"}, "legend": {"fill":"independent","stroke":"independent"}}
}
],
"spacing": 32,
"resolve": {"scale": {"x":"independent","y":"independent","fill":"independent","stroke":"independent","color":"independent"}, "legend": {"fill":"independent","stroke":"independent"}}
}
],
"spacing": 22,
"resolve": {"scale": {"x":"independent","y":"independent","fill":"independent","stroke":"independent","color":"independent"}, "legend": {"fill":"independent","stroke":"independent"}}
}
],
"spacing": 18.5,
"resolve": {"scale": {"x":"independent","y":"independent","fill":"independent","stroke":"independent","color":"independent"}, "legend": {"fill":"independent","stroke":"independent"}}
}
